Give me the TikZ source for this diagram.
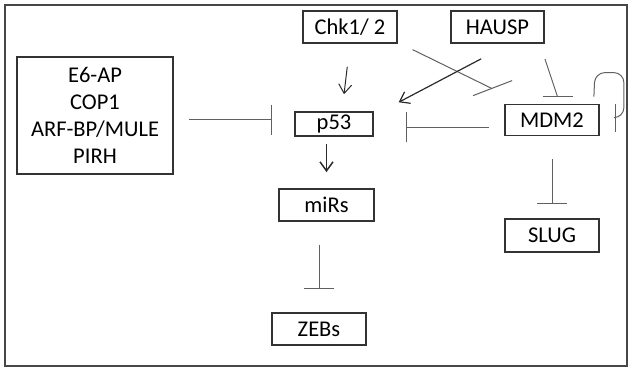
\documentclass[tikz,border=0pt]{standalone}
\usepackage{fontspec}
\setmainfont{Carlito}
\usetikzlibrary{arrows.meta}
\definecolor{boxline}{HTML}{333333}
\definecolor{linkgray}{HTML}{606060}
\definecolor{darkline}{HTML}{2A2A2A}
\begin{document}
\begin{tikzpicture}[
   x=1pt,y=-1pt,
   box/.style={draw=boxline,line width=1.8pt,inner sep=0pt,align=center,text=black},
   link/.style={draw=linkgray,line width=1pt},
   inh/.style={link,-{Bar[width=30pt]}},
   act/.style={draw=darkline,line width=1.2pt,-{Straight Barb[length=9pt,width=13pt]}},
   every node/.style={font=\fontsize{22.5}{27}\selectfont}
 ]
  \useasboundingbox (0,0) rectangle (632,370);
  \draw[draw=boxline!90,line width=1.5pt] (5,5) rectangle (627,366);

  \node[box,minimum width=94pt,minimum height=32pt] (chk) at (350,27) {Chk1/ 2};
  \node[box,minimum width=93pt,minimum height=32pt] (hausp) at (497.5,27) {HAUSP};
  \node[box,minimum width=156pt,minimum height=117pt] (e6) at (95,115.5) {E6-AP\\COP1\\ARF-BP/MULE\\PIRH};
  \node[box,minimum width=78pt,minimum height=24pt] (p53) at (334,124) {p53};
  \node[box,minimum width=94pt,minimum height=31pt] (mdm2) at (552,120) {MDM2};
  \node[box,minimum width=95pt,minimum height=32pt] (mirs) at (326.5,205) {miRs};
  \node[box,minimum width=94pt,minimum height=33pt] (slug) at (552,235.5) {SLUG};
  \node[box,minimum width=94pt,minimum height=32pt] (zebs) at (319,329) {ZEBs};

  % bar ends that sit askew
  \coordinate (cbar) at ([xshift=-12pt,yshift=15pt]mdm2.north west);
  \coordinate (hbar) at ([xshift=5.5pt,yshift=7pt]mdm2.north);

  % inhibitions
  \draw[inh,shorten <=15pt,shorten >=22pt] ([yshift=-4pt]e6.east) -- ([yshift=-4pt]e6.east -| p53.west);
  \draw[inh,shorten <=15pt,shorten >=32pt] ([yshift=-7pt]mdm2.west) -- ([yshift=-7pt]mdm2.west -| p53.east);
  \draw[link,shorten <=13pt] ([xshift=3pt]chk.south east) -- (cbar);
  \draw[link] (cbar) ++(-19,7) -- ++(39,-15);
  \draw[link,shorten <=16pt] ([xshift=-5pt]hausp.south east) -- (hbar);
  \draw[link] ([xshift=-15pt]hbar) -- ([xshift=15pt]hbar);
  \draw[inh,shorten <=23pt,shorten >=14pt] (mdm2.south) -- (slug.north);
  \draw[inh,shorten <=23pt,shorten >=23pt] (mirs.south -| zebs.north) -- (zebs.north);
  \draw[inh,-{Bar[width=28pt]},rounded corners=10pt] ([xshift=-6pt,yshift=7pt]mdm2.north east)
    -- ++(1,-24) -- ++(29,0) -- ++(0,45) -- ++(-8,0);

  % activations
  \draw[act,line width=1pt,shorten <=23pt,shorten >=17pt] (chk.south) -- ([xshift=8pt]p53.north);
  \draw[act,shorten <=32pt,shorten >=19pt] ([xshift=12pt]hausp.south) -- ([xshift=8pt]p53.north east);
  \draw[act,line width=1.5pt,shorten <=7pt,shorten >=16pt] (p53.south -| mirs.north) -- (mirs.north);
 \end{tikzpicture}
\end{document}
